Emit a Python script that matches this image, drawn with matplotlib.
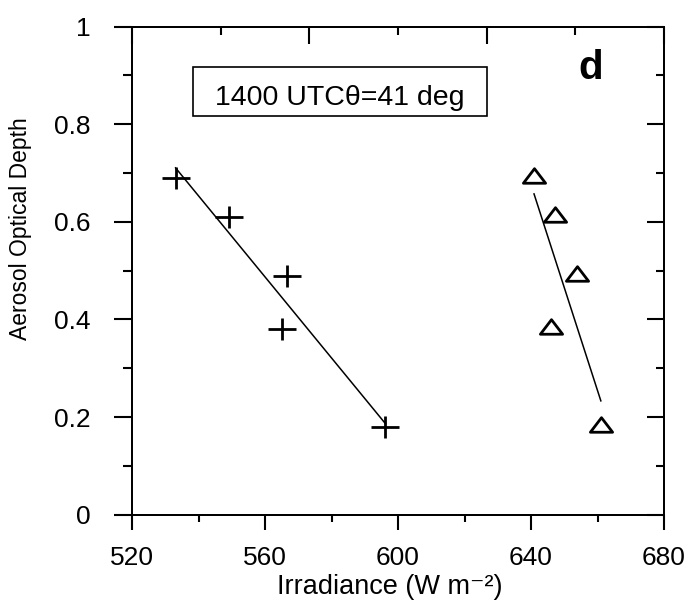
import numpy as np
import matplotlib
matplotlib.use('Agg')
import matplotlib.pyplot as plt
from matplotlib.path import Path
from matplotlib.patches import Rectangle

plt.rcParams['font.family'] = ['Liberation Sans', 'DejaVu Sans']

# aerosol optical depth vs irradiance, 1400 UTC
aod = [0.69, 0.61, 0.49, 0.38, 0.18]
irr_plus = [533.1, 549.3, 566.6, 565.2, 596.2]
irr_tri = [640.9, 647.2, 653.9, 645.9, 661.0]

xticks = [520, 560, 600, 640, 680]
xminor = [540, 580, 620, 660]
yticks = [0, 0.2, 0.4, 0.6, 0.8, 1]
ylabels = ['0', '0.2', '0.4', '0.6', '0.8', '1']
yminor = [0.1, 0.3, 0.5, 0.7, 0.9]
# top axis has its own (unlabelled) tick spacing
top_major = [520, 573.33, 626.67, 680]
top_minor = [546.67, 600, 653.33]

# custom markers: wide plus and flat open triangle
plus = Path([(-1.25, 0), (1.25, 0), (0, -1), (0, 1)],
            [Path.MOVETO, Path.LINETO, Path.MOVETO, Path.LINETO])
tri = Path([(-1.1, -0.47), (1.1, -0.47), (0, 0.97), (-1.1, -0.47)],
           [Path.MOVETO, Path.LINETO, Path.LINETO, Path.CLOSEPOLY])

fig = plt.figure(figsize=(6.93, 6.0), dpi=100)
ax = fig.add_axes([0.1905, 0.1422, 0.7677, 0.8133])

ax.plot(irr_plus, aod, linestyle='none', marker=plus, markersize=19.5,
        mec='black', mfc='none', mew=2.0)
ax.plot(irr_tri, aod, linestyle='none', marker=tri, markersize=16,
        mec='black', mfc='none', mew=2.0)

# least squares fit lines
for xs in (irr_plus, irr_tri):
    p = np.polyfit(xs, aod, 1)
    xr = np.array([min(xs), max(xs)])
    ax.plot(xr, np.polyval(p, xr), color='black', lw=1.1)

ax.set_xlim(520, 680)
ax.set_ylim(0, 1)
ax.set_xticks(xticks)
ax.set_xticks(xminor, minor=True)
ax.set_yticks(yticks)
ax.set_yticklabels(ylabels)
ax.set_yticks(yminor, minor=True)

ax.tick_params(axis='x', which='major', direction='out', length=10.8, width=1.5,
               labelsize=19, pad=12)
ax.tick_params(axis='x', which='minor', direction='out', length=5, width=1.5)
ax.tick_params(axis='y', which='major', direction='out', length=13, width=1.5,
               labelsize=19, pad=17)
ax.tick_params(axis='y', which='minor', direction='out', length=6.5, width=1.5)

axr = ax.twinx()
axr.set_ylim(0, 1)
axr.set_yticks(yticks)
axr.set_yticks(yminor, minor=True)
axr.tick_params(axis='y', which='major', direction='in', length=12, width=1.5, labelright=False)
axr.tick_params(axis='y', which='minor', direction='in', length=6, width=1.5)

axt = ax.twiny()
axt.set_xlim(520, 680)
axt.set_xticks(top_major)
axt.set_xticks(top_minor, minor=True)
axt.tick_params(axis='x', which='major', direction='in', length=12, width=1.5, labeltop=False)
axt.tick_params(axis='x', which='minor', direction='in', length=6, width=1.5)

for a in (ax, axr, axt):
    for s in a.spines.values():
        s.set_linewidth(1.2)

ax.set_xlabel('Irradiance (W m\u207b\u00b2)', fontsize=19.5, va='center')
ax.xaxis.set_label_coords(0.485, -0.148)
ax.set_ylabel('Aerosol Optical Depth', fontsize=16.5, va='center')
ax.yaxis.set_label_coords(-0.2105, 0.587)

ax.add_patch(Rectangle((0.1147, 0.818), 0.552, 0.099, transform=ax.transAxes,
                       fill=False, edgecolor='black', lw=1.2))
ax.text(0.391, 0.853, '1400 UTC\u03b8=41 deg', transform=ax.transAxes,
        fontsize=20.5, ha='center', va='center')
ax.text(0.862, 0.916, 'd', transform=ax.transAxes, fontsize=29,
        fontweight='bold', ha='center', va='center')

fig.savefig('out.png', dpi=100)
